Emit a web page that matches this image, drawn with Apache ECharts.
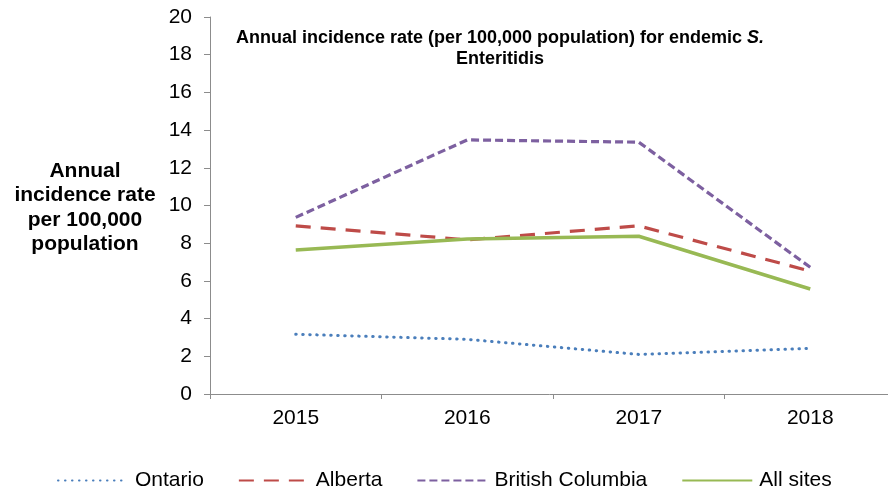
<!DOCTYPE html>
<html><head><meta charset="utf-8">
<script src="https://cdn.jsdelivr.net/npm/echarts@6/dist/echarts.min.js"></script>
<style>html,body{margin:0;padding:0;background:#fff}#c{width:888px;height:491px}</style>
</head><body><div id="c"></div>
<script>
const years = ['2015', '2016', '2017', '2018'];
const ontario = [3.17, 2.90, 2.10, 2.42];
const alberta = [8.92, 8.18, 8.92, 6.52];
const britishColumbia = [9.37, 13.48, 13.36, 6.72];
const allSites = [7.64, 8.22, 8.37, 5.57];
const yTicks = [0, 2, 4, 6, 8, 10, 12, 14, 16, 18, 20];

const F = '"Liberation Sans", Arial, sans-serif';
const chart = echarts.init(document.getElementById('c'));
function mk(name, data, color, type, width, cap) {
  return {name, type: 'line', data, symbol: 'none', showSymbol: false,
    lineStyle: {color, type, width, cap: cap || 'butt'},
    itemStyle: {color}, z: 2};
}
chart.setOption({
  animation: false,
  textStyle: {fontFamily: F},
  title: {
    text: '{b|Annual incidence rate (per 100,000 population) for endemic }{i|S.}\n{b|Enteritidis}',
    left: 495, top: 23, textAlign: 'center',
    textStyle: {
      rich: {
        b: {fontFamily: F, fontSize: 18, fontWeight: 'bold', color: '#000', lineHeight: 21, align: 'center'},
        i: {fontFamily: F, fontSize: 18, fontWeight: 'bold', fontStyle: 'italic', color: '#000', lineHeight: 21}
      }
    }
  },
  graphic: [{
    type: 'text',
    style: {
      text: 'Annual\nincidence rate\nper 100,000\npopulation',
      x: 85, y: 159, textAlign: 'center', textVerticalAlign: 'top',
      font: 'bold 21px ' + F, fill: '#000', lineHeight: 24.3
    }
  }],
  legend: {
    top: 465, left: 52,
    itemWidth: 70, itemHeight: 14, itemGap: 34,
    itemStyle: {opacity: 0},
    textStyle: {fontFamily: F, fontSize: 21, color: '#000', padding: [0, 0, 0, 2]},
    data: ['Ontario', 'Alberta', 'British Columbia', 'All sites']
  },
  grid: {left: 210, width: 686, top: 17, height: 377, outerBoundsMode: 'none', containLabel: false},
  xAxis: {
    type: 'category', data: years, boundaryGap: true,
    axisLine: {lineStyle: {color: '#8c8c8c', width: 1}},
    axisTick: {show: true, length: 5, lineStyle: {color: '#8c8c8c'}},
    axisLabel: {fontFamily: F, fontSize: 21, color: '#000', margin: 14}
  },
  yAxis: {
    type: 'value', min: 0, max: 20, interval: 2,
    axisLine: {show: true, lineStyle: {color: '#8c8c8c', width: 1}},
    axisTick: {show: true, length: 6, lineStyle: {color: '#8c8c8c'}},
    splitLine: {show: false},
    axisLabel: {fontFamily: F, fontSize: 21, color: '#000', margin: 18,
      formatter: v => yTicks.includes(v) ? String(v) : ''}
  },
  series: [
    mk('Ontario', ontario, '#4a7ebb', [0.5, 6.5], 3, 'round'),
    mk('Alberta', alberta, '#be4b48', [15, 10], 3.2),
    mk('British Columbia', britishColumbia, '#7d60a0', [8, 4], 3.2),
    mk('All sites', allSites, '#98b954', 'solid', 3.5)
  ]
});
</script></body></html>
